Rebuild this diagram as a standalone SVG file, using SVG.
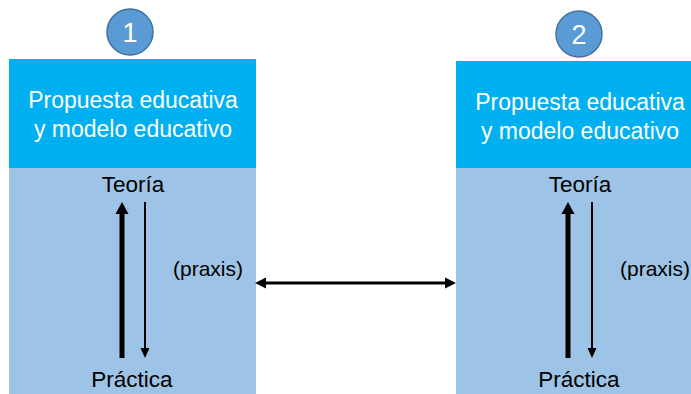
<svg xmlns="http://www.w3.org/2000/svg" width="691" height="394" viewBox="0 0 691 394">
<style>
.top{fill:#00B0F0}
.body{fill:#9DC3E6}
.circ{fill:#5B9BD5;stroke:#41719C;stroke-width:1.5}
.num{font-family:"Liberation Sans",Arial,sans-serif;font-size:27px;fill:#fff;text-anchor:middle}
.title{font-family:"Liberation Sans",Arial,sans-serif;font-size:23px;fill:#fff;text-anchor:middle}
.lbl{font-family:"Liberation Sans",Arial,sans-serif;font-size:22.5px;fill:#000;text-anchor:middle}
.px{font-family:"Liberation Sans",Arial,sans-serif;font-size:21px;fill:#000;text-anchor:middle}
.thick{stroke:#000;stroke-width:5;fill:none}
.thin{stroke:#000;stroke-width:2;fill:none}
.mid{stroke:#000;stroke-width:3;fill:none}
</style>
<rect width="691" height="394" fill="#fff"/>
<g id="node1">
<circle class="circ" cx="130" cy="32" r="23"/>
<text class="num" x="130" y="41.5">1</text>
<rect class="top" x="9" y="59" width="247" height="109"/>
<rect class="body" x="9" y="168" width="247" height="226"/>
<text class="title" x="133" y="108">Propuesta educativa</text>
<text class="title" x="133" y="137">y modelo educativo</text>
<text class="lbl" x="133" y="192">Teoría</text>
<text class="lbl" x="132" y="387">Práctica</text>
<text class="px" x="208" y="276">(praxis)</text>
</g>
<g id="node2">
<circle class="circ" cx="579" cy="34" r="23"/>
<text class="num" x="579" y="43.5">2</text>
<rect class="top" x="456" y="61" width="235" height="107"/>
<rect class="body" x="456" y="168" width="235" height="226"/>
<text class="title" x="580" y="110">Propuesta educativa</text>
<text class="title" x="580" y="139">y modelo educativo</text>
<text class="lbl" x="580" y="192">Teoría</text>
<text class="lbl" x="579" y="387">Práctica</text>
<text class="px" x="655" y="276">(praxis)</text>
</g>
<g id="connectors">
<line class="thick" x1="122" y1="358" x2="122" y2="212"/>
<polygon points="122,202 115.5,214 128.5,214" fill="#000"/>
<line class="thin" x1="145" y1="202" x2="145" y2="350"/>
<polygon points="145,358 140.5,348 149.5,348" fill="#000"/>
<line class="thick" x1="568" y1="358" x2="568" y2="212"/>
<polygon points="568,202 561.5,214 574.5,214" fill="#000"/>
<line class="thin" x1="592" y1="202" x2="592" y2="350"/>
<polygon points="592,358 587.5,348 596.5,348" fill="#000"/>
<line class="mid" x1="263" y1="283" x2="448" y2="283"/>
<polygon points="255,283 266,277.5 266,288.5" fill="#000"/>
<polygon points="456,283 445,277.5 445,288.5" fill="#000"/>
</g>
</svg>
